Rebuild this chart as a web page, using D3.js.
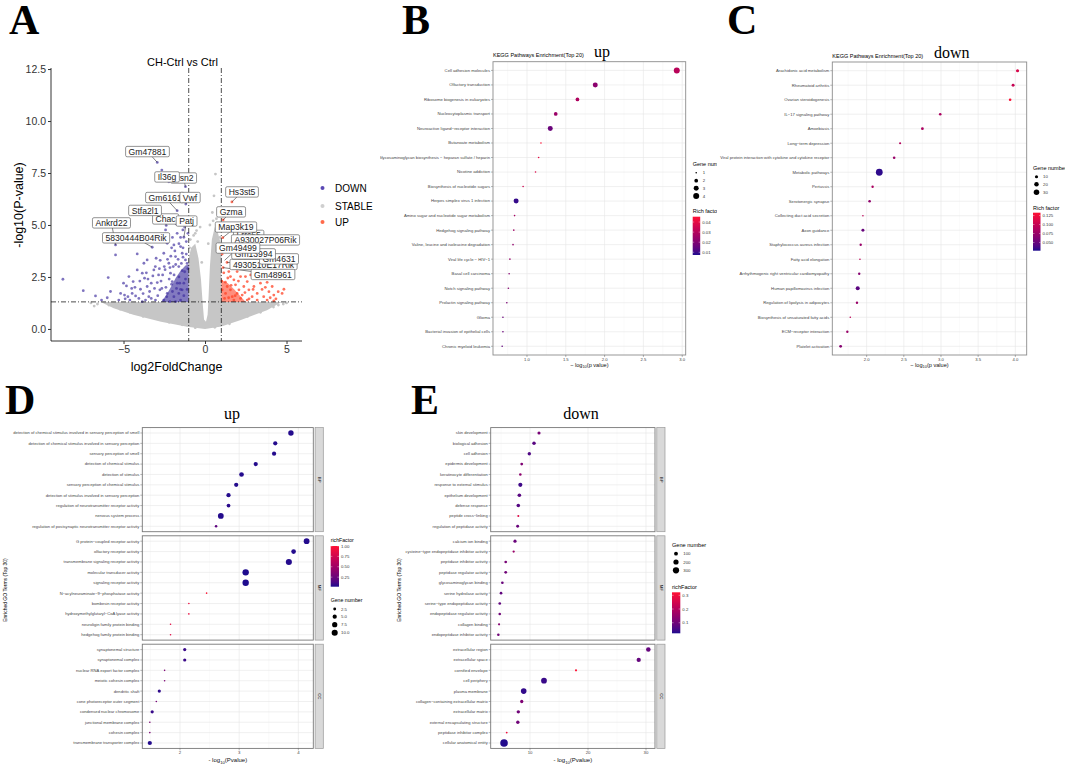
<!DOCTYPE html>
<html>
<head>
<meta charset="utf-8">
<title>Volcano, KEGG and GO enrichment</title>
<script src="https://d3js.org/d3.v7.min.js"></script>
<style>
  body { margin: 0; background: #fff; }
  svg { display: block; font-family: "Liberation Sans", Arial, sans-serif; }
  .letter { font-family: "Liberation Serif", "Times New Roman", serif; font-weight: bold; }
  .serif { font-family: "Liberation Serif", "Times New Roman", serif; }
</style>
</head>
<body>
<script>
// ---------- Panel A: volcano (log2FoldChange, -log10 p) ----------
const volcanoDown = [
  [-8.72,2.39],[-7.47,1.84],[-6.72,1.59],[-6.35,1.39],[-5.94,2.47],[-5.49,3.56],[-5.49,4.04],
  [-4.82,2.07],[-4.67,2.52],[-4.47,1.71],[-4.16,3.61],[-4.26,1.59],[-3.96,1.91],[-3.75,3.16],
  [-3.71,2.44],[-3.55,2.04],[-3.45,1.55],[-3.24,3.93],[-3.14,2.84],[-3.0,3.40],[-2.93,2.23],
  [-2.77,1.88],[-2.53,3.64],[-2.42,4.76],[-2.38,4.98],[-2.32,4.12],[-2.22,3.16],[-2.12,2.68],
  [-2.01,2.28],[-1.91,4.04],[-1.81,3.48],[-1.71,4.60],[-1.61,3.0],[-1.50,3.96],[-1.40,3.64],
  [-1.36,4.76],[-1.30,4.41],[-1.20,3.32],[-1.18,6.01],[-1.20,6.84],[-2.65,7.64],[-2.93,8.01],
  [-2.22,7.08],[-1.77,5.05],[-1.71,5.69],[-4.16,2.84],[-4.41,2.28],[-4.73,1.55],[-5.18,1.71],
  [-5.29,1.39],[-4.94,1.63],[-4.61,1.39],[-4.06,1.47],[-3.85,1.31],[-3.65,1.39],[-3.30,1.47],
  [-3.04,1.39],[-2.32,1.71],[-2.53,1.39],[-1.91,1.55],[-1.61,1.71],[-1.40,1.88],[-1.30,2.20],
  [-1.50,1.39],[-1.81,1.31],[-2.16,1.31],[-3.85,2.68],[-3.55,3.32],
  [-2.6,2.6],[-2.4,2.0],[-2.2,2.4],[-2.0,1.8],[-1.9,2.6],[-1.8,3.1],[-1.7,2.2],[-1.6,2.5],
  [-1.5,1.9],[-1.4,2.8],[-1.3,1.6],[-1.2,2.4],[-1.1,1.9],[-1.05,2.9],[-1.15,3.6],[-2.9,1.6],
  [-2.7,2.3],[-3.3,2.2],[-3.4,1.8],[-3.1,1.95],[-2.5,3.0],[-2.1,3.5],[-1.95,3.0],[-2.8,2.9],
  [-3.6,2.7],[-4.0,2.3],[-4.3,2.0],[-5.0,2.2],[-5.8,1.8],[-6.0,1.5],[-4.9,1.45],[-1.25,4.9],
  [-1.1,5.3],[-1.5,4.4],[-1.35,3.9],[-2.6,4.3],[-2.05,3.9],
  [-2.45,2.85],[-2.3,3.35],[-2.15,2.95],[-1.85,3.75],[-1.65,3.35],[-1.45,3.15],[-1.25,2.75],
  [-1.1,3.15],[-1.55,2.2],[-1.75,1.95],[-2.05,2.15],[-2.35,1.55],[-2.65,1.95],[-2.85,2.6],
  [-3.2,2.55],[-3.5,2.4],[-3.8,1.7],[-4.5,1.95],[-1.15,4.2],[-1.05,4.6],[-1.6,4.1],[-2.75,3.3],
  [-3.05,3.0],[-1.35,3.45],[-2.0,4.4]
];
const volcanoUp = [
  [1.65,6.11],[1.11,5.24],[1.09,4.39],[1.11,2.95],[1.26,3.88],[1.77,3.0],[1.77,2.36],[2.18,2.52],
  [2.59,2.28],[3.0,2.04],[3.4,2.2],[3.81,2.24],[4.12,2.04],[4.49,1.79],[4.73,1.71],[4.84,1.91],
  [4.22,1.63],[3.92,1.79],[3.6,1.55],[3.2,1.71],[2.89,1.55],[2.69,1.88],[2.38,2.04],[2.08,1.88],
  [1.87,2.12],[1.56,2.52],[1.46,2.76],[1.97,2.76],[2.48,2.52],[3.0,2.52],[1.26,1.71],[1.67,1.55],
  [2.18,1.47],[2.59,1.39],[3.2,1.39],[3.81,1.39],[4.22,1.35],[1.36,2.04],[1.56,1.88],[1.77,1.39],
  [1.2,1.47],[1.05,1.88],[1.97,1.71],[2.28,1.63],[1.03,2.3],[1.15,2.7],[1.35,3.2],[2.1,3.3],
  [2.8,2.6],[3.5,1.9],[4.0,1.5],[1.05,3.6],
  [1.4,2.45],[1.6,2.1],[1.85,1.6],[2.45,1.75],[2.95,1.9],[3.3,2.45],[3.7,2.0],[4.35,1.45],
  [1.25,2.25],[1.45,1.5],[2.05,2.3],[2.7,1.45]
];
const volcanoStable = [
  [-0.52,4.73],[0.64,7.45],[0.55,6.4],[0.45,5.6],[0.7,5.3],[-0.7,4.5],[-0.3,4.9],[-0.9,4.3],
  [0.3,5.0],[0.85,5.0],[-0.45,4.2],[0.92,4.4],[-0.95,3.9],[0.2,4.1],[-0.2,3.2],[0.75,4.9],
  [-0.6,4.6],[0.5,5.2],[-6.6,1.2],[-5.9,1.15],[-5.2,0.95],[-4.6,0.8],[-3.8,0.6],[-3.0,0.5],
  [-2.2,0.32],[-1.4,0.2],[-0.6,0.06],[0.6,0.08],[1.5,0.25],[2.6,0.6],[3.4,0.8],[4.2,1.05],
  [4.8,1.2],[5.0,1.25],[-7.0,1.25],[4.5,1.15],[-6.8,1.1]
];
// outline of the dense grey (STABLE) cloud, and the dense cores of the coloured groups
const stableCloud = [
  [0,0.0],[-1.1,0.1],[-2.7,0.35],[-4.4,0.68],[-5.6,1.0],[-6.4,1.3],[-1.0,1.3],[-1.0,3.4],
  [-0.85,3.9],[-0.6,4.1],[-0.4,3.4],[-0.25,2.4],[-0.14,1.2],[-0.06,0.45],[0.06,0.35],[0.16,0.7],
  [0.22,1.6],[0.3,3.0],[0.42,4.3],[0.6,4.9],[0.8,4.6],[1.0,4.0],[1.0,1.3],[4.7,1.3],[3.8,0.9],
  [2.2,0.43],[1.0,0.12]
];
const downCore = [[-1.0,1.3],[-2.7,1.3],[-2.4,1.6],[-2.1,2.0],[-1.8,2.45],[-1.5,2.8],[-1.2,3.05],[-1.0,3.1]];
const upCore = [[1.0,1.3],[2.5,1.3],[2.2,1.55],[1.8,1.9],[1.4,2.2],[1.0,2.35]];

const labelGenes = ["Csn2","Il36g","Gm47881","Chac","Patj","Gm6161","Vwf","Stfa2l1","Ankrd22","5830444B04Rik",
  "Hs3st5","Gzma","Lrrc55","Map3k19","A930027P06Rik","4930510E17Rik","Gm4631","Gm13994","Gm49499","Gm48961"];
const labelPoints = [[-1.2,6.84],[-2.22,7.08],[-2.93,8.01],[-2.38,4.98],[-1.30,4.41],[-1.71,5.69],[-1.18,6.01],
  [-1.77,5.05],[-5.49,4.04],[-3.24,3.93],[1.65,6.11],[1.11,5.24],[1.26,3.88],[1.09,4.39],[1.26,3.88],
  [1.35,3.2],[2.1,3.3],[1.77,3.0],[1.2,3.3],[1.11,2.95]];
// label box centres (data units), as placed by the repel layout
const labelBoxes = [[-1.32,7.26],[-2.33,7.31],[-3.53,8.53],[-2.42,5.29],[-1.13,5.19],[-2.45,6.32],[-0.92,6.32],
  [-3.68,5.70],[-5.74,5.10],[-4.23,4.38],[2.27,6.59],[1.60,5.63],[2.68,4.50],[1.90,4.90],[3.71,4.28],
  [3.59,3.10],[4.54,3.37],[2.98,3.61],[2.02,3.89],[4.17,2.62]];

// ---------- Panel B: KEGG up ----------
const keggUpTerms = ["Cell adhesion molecules","Olfactory transduction","Ribosome biogenesis in eukaryotes",
  "Nucleocytoplasmic transport","Neuroactive ligand−receptor interaction","Butanoate metabolism",
  "Glycosaminoglycan biosynthesis − heparan sulfate / heparin","Nicotine addiction",
  "Biosynthesis of nucleotide sugars","Herpes simplex virus 1 infection",
  "Amino sugar and nucleotide sugar metabolism","Hedgehog signaling pathway",
  "Valine, leucine and isoleucine degradation","Viral life cycle − HIV−1","Basal cell carcinoma",
  "Notch signaling pathway","Prolactin signaling pathway","Glioma","Bacterial invasion of epithelial cells",
  "Chronic myeloid leukemia"];
const keggUpLogP = [2.93,1.88,1.65,1.37,1.30,1.18,1.15,1.11,0.95,0.86,0.84,0.83,0.82,0.78,0.77,0.76,0.74,0.69,0.69,0.68];
const keggUpGenes = [4,3,2,2,3,1,1,1,1,3,1,1,1,1,1,1,1,1,1,1];
const keggUpRich = [0.031,0.022,0.029,0.025,0.016,0.045,0.040,0.038,0.035,0.009,0.027,0.026,0.023,0.024,0.021,0.021,0.019,0.016,0.016,0.015];

// ---------- Panel C: KEGG down ----------
const keggDownTerms = ["Arachidonic acid metabolism","Rheumatoid arthritis","Ovarian steroidogenesis",
  "IL−17 signaling pathway","Amoebiasis","Long−term depression",
  "Viral protein interaction with cytokine and cytokine receptor","Metabolic pathways","Pertussis",
  "Serotonergic synapse","Collecting duct acid secretion","Axon guidance","Staphylococcus aureus infection",
  "Fatty acid elongation","Arrhythmogenic right ventricular cardiomyopathy","Human papillomavirus infection",
  "Regulation of lipolysis in adipocytes","Biosynthesis of unsaturated fatty acids","ECM−receptor interaction",
  "Platelet activation"];
const keggDownLogP = [4.03,3.97,3.93,2.99,2.75,2.45,2.37,2.17,2.08,2.04,1.95,1.95,1.92,1.91,1.90,1.88,1.87,1.78,1.74,1.65];
const keggDownGenes = [10,9,7,7,8,5,7,45,6,7,3,9,6,3,6,16,6,3,6,8];
const keggDownRich = [0.11,0.10,0.13,0.085,0.085,0.09,0.075,0.03,0.085,0.07,0.095,0.05,0.075,0.095,0.065,0.045,0.075,0.095,0.075,0.065];

// ---------- Panel D: GO up ----------
const goUpTerms = [
  "detection of chemical stimulus involved in sensory perception of smell",
  "detection of chemical stimulus involved in sensory perception","sensory perception of smell",
  "detection of chemical stimulus","detection of stimulus","sensory perception of chemical stimulus",
  "detection of stimulus involved in sensory perception","regulation of neurotransmitter receptor activity",
  "nervous system process","regulation of postsynaptic neurotransmitter receptor activity",
  "G protein−coupled receptor activity","olfactory receptor activity","transmembrane signaling receptor activity",
  "molecular transducer activity","signaling receptor activity","N−acylneuraminate−9−phosphatase activity",
  "bombesin receptor activity","hydroxymethylglutaryl−CoA lyase activity","neuroligin family protein binding",
  "hedgehog family protein binding",
  "synaptonemal structure","synaptonemal complex","nuclear RNA export factor complex","meiotic cohesin complex",
  "dendritic shaft","cone photoreceptor outer segment","condensed nuclear chromosome",
  "junctional membrane complex","cohesin complex","transmembrane transporter complex"];
const goUpCat = ["BP","BP","BP","BP","BP","BP","BP","BP","BP","BP","MF","MF","MF","MF","MF","MF","MF","MF","MF","MF",
  "CC","CC","CC","CC","CC","CC","CC","CC","CC","CC"];
const goUpLogP = [3.875,3.61,3.59,3.28,3.04,2.95,2.82,2.82,2.69,2.61,
  4.14,3.92,3.84,3.11,3.11,2.45,2.15,2.15,1.84,1.84,
  2.08,2.08,1.74,1.74,1.65,1.60,1.53,1.49,1.49,1.49];
const goUpGenes = [8,5,5,5,6,5,5,4,9,2, 9,6,10,11,11,1,1,1,1,1, 3,3,1,1,3,1,3,1,1,5];
const goUpRich = [0.03,0.03,0.03,0.03,0.03,0.03,0.03,0.04,0.03,0.2,
  0.03,0.03,0.03,0.02,0.02,1.0,0.9,0.9,0.85,0.85,
  0.08,0.08,0.33,0.33,0.05,0.3,0.07,0.33,0.33,0.03];

// ---------- Panel E: GO down ----------
const goDownTerms = ["skin development","biological adhesion","cell adhesion","epidermis development",
  "keratinocyte differentiation","response to external stimulus","epithelium development","defense response",
  "peptide cross−linking","regulation of peptidase activity",
  "calcium ion binding","cysteine−type endopeptidase inhibitor activity","peptidase inhibitor activity",
  "peptidase regulator activity","glycosaminoglycan binding","serine hydrolase activity",
  "serine−type endopeptidase activity","endopeptidase regulator activity","collagen binding",
  "endopeptidase inhibitor activity",
  "extracellular region","extracellular space","cornified envelope","cell periphery","plasma membrane",
  "collagen−containing extracellular matrix","extracellular matrix","external encapsulating structure",
  "peptidase inhibitor complex","cellular anatomical entity"];
const goDownCat = goUpCat;
const goDownLogP = [11.55,10.69,9.88,8.57,8.33,8.33,8.16,7.98,7.98,7.87,
  7.41,7.18,5.81,5.81,5.23,5.0,4.78,4.78,4.66,4.54,
  30.4,28.74,17.93,12.41,8.91,8.57,7.98,7.9,5.98,5.52];
const goDownGenes = [60,80,75,45,35,120,90,85,15,50, 65,25,40,45,40,40,40,35,20,35,
  150,130,20,250,240,70,75,75,8,450];
const goDownRich = [0.11,0.07,0.06,0.12,0.14,0.045,0.07,0.065,0.27,0.09,
  0.09,0.16,0.11,0.1,0.09,0.08,0.08,0.1,0.13,0.1,
  0.085,0.085,0.32,0.04,0.035,0.12,0.1,0.1,0.3,0.025];

// ---------------------------------------------------------------
const LOW = "#1e0b8e", HIGH = "#ff1133";
const svg = d3.select("body").append("svg").attr("width", 1065).attr("height", 764);
const defs = svg.append("defs");

function richColor(domain) {
  return d3.scaleLinear().domain(domain).range([LOW, HIGH]).interpolate(d3.interpolateLab).clamp(true);
}
function sizeScale(domain, rr) {
  const s = d3.scaleLinear().domain(domain).range([rr[0] * rr[0], rr[1] * rr[1]]);
  return n => Math.sqrt(Math.max(0.05, s(n)));
}
function letter(t, x, y, size) {
  svg.append("text").attr("class", "letter").attr("x", x).attr("y", y)
    .attr("font-size", size).text(t);
}
function colorbar(g, id, x0, y0, w, h, domain, ticks, fmt, fs) {
  const grad = defs.append("linearGradient").attr("id", id)
    .attr("x1", 0).attr("y1", 1).attr("x2", 0).attr("y2", 0);
  d3.range(0, 1.0001, 0.1).forEach(t =>
    grad.append("stop").attr("offset", t).attr("stop-color", d3.interpolateLab(LOW, HIGH)(t)));
  g.append("rect").attr("x", x0).attr("y", y0).attr("width", w).attr("height", h)
    .attr("fill", `url(#${id})`);
  const s = d3.scaleLinear().domain(domain).range([y0 + h, y0]);
  ticks.forEach(t => {
    g.append("line").attr("x1", x0).attr("x2", x0 + w * 0.2).attr("y1", s(t)).attr("y2", s(t))
      .attr("stroke", "#fff").attr("stroke-width", 0.4);
    g.append("line").attr("x1", x0 + w * 0.8).attr("x2", x0 + w).attr("y1", s(t)).attr("y2", s(t))
      .attr("stroke", "#fff").attr("stroke-width", 0.4);
    g.append("text").attr("x", x0 + w + 2).attr("y", s(t) + fs * 0.35)
      .attr("font-size", fs).attr("fill", "#333").text(fmt(t));
  });
}
function sizeLegend(g, x, ys, labX, values, r, fs, fmt) {
  values.forEach((v, i) => {
    g.append("circle").attr("cx", x).attr("cy", ys[i]).attr("r", r(v)).attr("fill", "#000");
    g.append("text").attr("x", labX).attr("y", ys[i] + fs * 0.35).attr("font-size", fs)
      .attr("fill", "#333").text(fmt ? fmt(v) : v);
  });
}
function vgrid(g, x, top, bottom, major, minor) {
  minor.forEach(v => g.append("line").attr("x1", x(v)).attr("x2", x(v)).attr("y1", top).attr("y2", bottom)
    .attr("stroke", "#f3f3f3").attr("stroke-width", 0.4));
  major.forEach(v => g.append("line").attr("x1", x(v)).attr("x2", x(v)).attr("y1", top).attr("y2", bottom)
    .attr("stroke", "#e6e6e6").attr("stroke-width", 0.6));
}
function xTitle(g, cx, y, pre, post, fs) {
  const t = g.append("text").attr("x", cx).attr("y", y).attr("text-anchor", "middle")
    .attr("font-size", fs).attr("fill", "#111");
  t.append("tspan").text(pre);
  t.append("tspan").attr("font-size", fs * 0.7).attr("dy", fs * 0.3).text("10");
  t.append("tspan").attr("dy", -fs * 0.3).text(post);
}

// ================= Panel A =================
(function () {
  const g = svg.append("g");
  const ax = d3.scaleLinear().domain([-9.45, 5.95]).range([51, 302]);
  const ay = d3.scaleLinear().domain([-0.58, 12.55]).range([341, 68]);
  const line = d3.line().x(d => ax(d[0])).y(d => ay(d[1])).curve(d3.curveLinearClosed);

  g.append("path").attr("d", line(stableCloud)).attr("fill", "#c6c6c6");
  g.selectAll(".st").data(volcanoStable).join("circle")
    .attr("cx", d => ax(d[0])).attr("cy", d => ay(d[1])).attr("r", 1.4).attr("fill", "#c6c6c6");
  g.append("path").attr("d", line(downCore)).attr("fill", "#2f2296").attr("opacity", 0.6);
  g.selectAll(".dn").data(volcanoDown).join("circle")
    .attr("cx", d => ax(d[0])).attr("cy", d => ay(d[1])).attr("r", 1.4)
    .attr("fill", "#3a2a9c").attr("opacity", 0.65);
  g.append("path").attr("d", line(upCore)).attr("fill", "#ff4326").attr("opacity", 0.6);
  g.selectAll(".up").data(volcanoUp).join("circle")
    .attr("cx", d => ax(d[0])).attr("cy", d => ay(d[1])).attr("r", 1.4)
    .attr("fill", "#ff4326").attr("opacity", 0.75);

  // threshold lines
  const dash = "5,2,1,2";
  [-1, 1].forEach(v => g.append("line").attr("x1", ax(v)).attr("x2", ax(v)).attr("y1", 68).attr("y2", 341)
    .attr("stroke", "#000").attr("stroke-width", 0.7).attr("stroke-dasharray", dash));
  g.append("line").attr("x1", 51).attr("x2", 302).attr("y1", ay(-Math.log10(0.05))).attr("y2", ay(-Math.log10(0.05)))
    .attr("stroke", "#000").attr("stroke-width", 0.7).attr("stroke-dasharray", dash);

  // repel labels: segments then boxes
  labelGenes.forEach((n, i) => {
    g.append("line").attr("x1", ax(labelPoints[i][0])).attr("y1", ay(labelPoints[i][1]))
      .attr("x2", ax(labelBoxes[i][0])).attr("y2", ay(labelBoxes[i][1]))
      .attr("stroke", "#333").attr("stroke-width", 0.6);
  });
  labelGenes.forEach((n, i) => {
    const lg = g.append("g");
    const cx = ax(labelBoxes[i][0]), cy = ay(labelBoxes[i][1]);
    const rect = lg.append("rect");
    const t = lg.append("text").attr("x", cx).attr("y", cy + 3.1).attr("text-anchor", "middle")
      .attr("font-size", 8.6).attr("fill", "#222").text(n);
    const w = t.node().getComputedTextLength() + 6;
    rect.attr("x", cx - w / 2).attr("y", cy - 5.2).attr("width", w).attr("height", 10.4)
      .attr("rx", 1.5).attr("fill", "#fff").attr("stroke", "#666").attr("stroke-width", 0.7);
  });

  // axes
  g.append("line").attr("x1", 51).attr("x2", 51).attr("y1", 68).attr("y2", 341).attr("stroke", "#000").attr("stroke-width", 0.8);
  g.append("line").attr("x1", 51).attr("x2", 302).attr("y1", 341).attr("y2", 341).attr("stroke", "#000").attr("stroke-width", 0.8);
  const ya = g.append("g").attr("transform", "translate(51,0)")
    .call(d3.axisLeft(ay).tickValues([0, 2.5, 5, 7.5, 10, 12.5]).tickFormat(d3.format(".1f")).tickSize(3).tickPadding(2));
  const xa = g.append("g").attr("transform", "translate(0,341)")
    .call(d3.axisBottom(ax).tickValues([-5, 0, 5]).tickSize(3).tickPadding(2));
  [ya, xa].forEach(a => {
    a.select(".domain").remove();
    a.selectAll("text").attr("font-size", 10.5).attr("fill", "#333").attr("font-family", "Liberation Sans, Arial");
    a.selectAll("line").attr("stroke", "#333");
  });
  g.append("text").attr("x", 176.5).attr("y", 371).attr("text-anchor", "middle").attr("font-size", 12.5).text("log2FoldChange");
  g.append("text").attr("transform", "translate(23,205) rotate(-90)").attr("text-anchor", "middle")
    .attr("font-size", 12.5).text("-log10(P-value)");
  g.append("text").attr("x", 182.5).attr("y", 66).attr("text-anchor", "middle").attr("font-size", 11).text("CH-Ctrl vs Ctrl");

  // legend
  const legNames = ["DOWN", "STABLE", "UP"], legCols = ["#5a48b4", "#cfcfcf", "#ff6a4a"], legY = [188, 206, 222];
  legNames.forEach((n, i) => {
    g.append("circle").attr("cx", 322.5).attr("cy", legY[i]).attr("r", 2).attr("fill", legCols[i]);
    g.append("text").attr("x", 335).attr("y", legY[i] + 3.5).attr("font-size", 10).text(n);
  });
  letter("A", 9, 34, 42);
})();

// ================= Panels B, C =================
function keggPanel(o) {
  const g = svg.append("g");
  if (o.clip) {
    defs.append("clipPath").attr("id", o.clip).append("rect")
      .attr("x", o.clipRect[0]).attr("y", 0).attr("width", o.clipRect[1] - o.clipRect[0]).attr("height", 380);
    g.attr("clip-path", `url(#${o.clip})`);
  }
  const x = d3.scaleLinear().domain(o.xDomain).range([o.left, o.right]);
  const y = d3.scalePoint().domain(o.terms).range([o.top, o.bottom]).padding(0.6);
  const col = richColor(o.richDomain);
  const r = sizeScale(o.geneDomain, o.rRange);

  const minor = o.ticks.map(t => t - 0.25).concat([o.ticks[o.ticks.length - 1] + 0.25])
    .filter(v => v > o.xDomain[0] && v < o.xDomain[1]);
  vgrid(g, x, o.top, o.bottom, o.ticks, minor);
  o.terms.forEach(t => g.append("line").attr("x1", o.left).attr("x2", o.right).attr("y1", y(t)).attr("y2", y(t))
    .attr("stroke", "#e6e6e6").attr("stroke-width", 0.6));

  o.terms.forEach((t, i) => {
    g.append("circle").attr("cx", x(o.logP[i])).attr("cy", y(t)).attr("r", r(o.genes[i])).attr("fill", col(o.rich[i]));
    g.append("line").attr("x1", o.left - 2).attr("x2", o.left).attr("y1", y(t)).attr("y2", y(t)).attr("stroke", "#444").attr("stroke-width", 0.4);
    g.append("text").attr("x", o.left - 3).attr("y", y(t) + 1.4).attr("text-anchor", "end")
      .attr("font-size", 4.2).attr("fill", "#444").text(t);
  });
  g.append("rect").attr("x", o.left).attr("y", o.top).attr("width", o.right - o.left).attr("height", o.bottom - o.top)
    .attr("fill", "none").attr("stroke", "#8c8c8c").attr("stroke-width", 0.9);
  o.ticks.forEach(v => {
    g.append("line").attr("x1", x(v)).attr("x2", x(v)).attr("y1", o.bottom).attr("y2", o.bottom + 2).attr("stroke", "#444").attr("stroke-width", 0.4);
    g.append("text").attr("x", x(v)).attr("y", o.bottom + 5.6).attr("text-anchor", "middle").attr("font-size", 4.2)
      .attr("fill", "#444").text(d3.format(".1f")(v));
  });
  xTitle(g, (o.left + o.right) / 2, o.bottom + 11.5, "− log", "(p value)", 5.6);
  g.append("text").attr("x", o.left).attr("y", o.top - 4.5).attr("font-size", 5.5).text("KEGG Pathways Enrichment(Top 20)");
  g.append("text").attr("class", "serif").attr("x", o.tagX).attr("y", o.top - 4.5).attr("font-size", 16).text(o.tag);

  // legends
  g.append("text").attr("x", o.legX).attr("y", o.sizeTitleY).attr("font-size", 5.5).text(o.sizeTitle);
  sizeLegend(g, o.legX + 3.5, o.sizeYs, o.legX + 10, o.sizeValues, r, 4.3);
  g.append("text").attr("x", o.legX).attr("y", o.colTitleY).attr("font-size", 5.5).text("Rich factor");
  colorbar(g, o.id + "grad", o.legX, o.cbY, 7.5, o.cbH, o.richDomain, o.cbTicks, o.cbFmt, 4.3);
}

keggPanel({
  id: "kup", clip: "clipB", clipRect: [380, 717],
  terms: keggUpTerms, logP: keggUpLogP, genes: keggUpGenes, rich: keggUpRich,
  left: 493, right: 685.7, top: 61.7, bottom: 355, xDomain: [0.562, 3.045], ticks: [1.0, 1.5, 2.0, 2.5, 3.0],
  richDomain: [0.0073, 0.0453], geneDomain: [1, 4], rRange: [0.8, 3.0],
  tag: "up", tagX: 594, legX: 692.7,
  sizeTitle: "Gene number", sizeTitleY: 166, sizeYs: [172.7, 180.7, 188.3, 196], sizeValues: [1, 2, 3, 4],
  colTitleY: 213, cbY: 216.7, cbH: 38.3, cbTicks: [0.01, 0.02, 0.03, 0.04], cbFmt: d3.format(".2f")
});
keggPanel({
  id: "kdn",
  terms: keggDownTerms, logP: keggDownLogP, genes: keggDownGenes, rich: keggDownRich,
  left: 832.3, right: 1026.7, top: 62, bottom: 355, xDomain: [1.538, 4.153], ticks: [2.0, 2.5, 3.0, 3.5, 4.0],
  richDomain: [0.027, 0.133], geneDomain: [3, 45], rRange: [0.8, 3.4],
  tag: "down", tagX: 934, legX: 1033,
  sizeTitle: "Gene number", sizeTitleY: 170, sizeYs: [176.7, 184.3, 192.3], sizeValues: [10, 20, 30],
  colTitleY: 210, cbY: 212.7, cbH: 38, cbTicks: [0.05, 0.075, 0.1, 0.125], cbFmt: d3.format(".3f")
});
letter("B", 402, 34, 42);
letter("C", 727, 34, 42);

// ================= Panels D, E =================
function goPanel(o) {
  const g = svg.append("g");
  const x = d3.scaleLinear().domain(o.xDomain).range([o.left, o.right]);
  const col = richColor(o.richDomain);
  const r = sizeScale(o.geneDomain, o.rRange);
  const facets = ["BP", "MF", "CC"];
  const facetY = [[427.6, 531.7], [535.8, 640.1], [644.2, 748.4]];
  facets.forEach((f, k) => {
    const [top, bottom] = facetY[k];
    const idx = o.terms.map((t, i) => i).filter(i => o.cat[i] === f);
    const y = d3.scalePoint().domain(idx.map(i => o.terms[i])).range([top, bottom]).padding(0.52);
    vgrid(g, x, top, bottom, o.ticks, o.minor);
    idx.forEach(i => g.append("line").attr("x1", o.left).attr("x2", o.right).attr("y1", y(o.terms[i])).attr("y2", y(o.terms[i]))
      .attr("stroke", "#e6e6e6").attr("stroke-width", 0.6));
    idx.forEach(i => {
      const yy = y(o.terms[i]);
      g.append("circle").attr("cx", x(o.logP[i])).attr("cy", yy).attr("r", r(o.genes[i])).attr("fill", col(o.rich[i]));
      g.append("line").attr("x1", o.left - 2).attr("x2", o.left).attr("y1", yy).attr("y2", yy).attr("stroke", "#444").attr("stroke-width", 0.4);
      g.append("text").attr("x", o.left - 3).attr("y", yy + 1.4).attr("text-anchor", "end")
        .attr("font-size", 4.1).attr("fill", "#444").text(o.terms[i]);
    });
    g.append("rect").attr("x", o.left).attr("y", top).attr("width", o.right - o.left).attr("height", bottom - top)
      .attr("fill", "none").attr("stroke", "#777").attr("stroke-width", 0.9);
    // strip
    g.append("rect").attr("x", o.right + 1.8).attr("y", top).attr("width", 8.2).attr("height", bottom - top)
      .attr("fill", "#d9d9d9").attr("stroke", "#999").attr("stroke-width", 0.7);
    g.append("text").attr("transform", `translate(${o.right + 4.6},${(top + bottom) / 2}) rotate(90)`)
      .attr("text-anchor", "middle").attr("font-size", 4.3).attr("fill", "#222").text(f);
  });
  const bottom = facetY[2][1];
  o.ticks.forEach(v => {
    g.append("line").attr("x1", x(v)).attr("x2", x(v)).attr("y1", bottom).attr("y2", bottom + 2).attr("stroke", "#444").attr("stroke-width", 0.4);
    g.append("text").attr("x", x(v)).attr("y", bottom + 6).attr("text-anchor", "middle").attr("font-size", 4.3)
      .attr("fill", "#444").text(v);
  });
  xTitle(g, (o.left + o.right) / 2, 761.8, "- log", "(Pvalue)", 6);
  g.append("text").attr("transform", `translate(${o.yTitleX},590) rotate(-90)`).attr("text-anchor", "middle")
    .attr("font-size", 5).text("Enriched GO Terms (Top 30)");
  g.append("text").attr("class", "serif").attr("x", o.tagX).attr("y", 419).attr("text-anchor", "middle")
    .attr("font-size", 16).text(o.tag);

  o.legends(g, r);
}

goPanel({
  terms: goUpTerms, cat: goUpCat, logP: goUpLogP, genes: goUpGenes, rich: goUpRich,
  left: 142.3, right: 313.3, xDomain: [1.363, 4.253], ticks: [2, 3, 4], minor: [1.5, 2.5, 3.5],
  richDomain: [0.02, 1.0], geneDomain: [1, 11], rRange: [0.8, 3.2],
  tag: "up", tagX: 232, yTitleX: 7,
  legends: (g, r) => {
    g.append("text").attr("x", 330.7).attr("y", 542).attr("font-size", 5.2).text("richFactor");
    colorbar(g, "gupgrad", 330.7, 546, 8.3, 40.7, [0.02, 1.0], [0.25, 0.5, 0.75, 1.0], d3.format(".2f"), 4.3);
    g.append("text").attr("x", 330.7).attr("y", 602).attr("font-size", 5.2).text("Gene number");
    sizeLegend(g, 334.7, [609, 616.7, 624.7, 632.7], 341, [2.5, 5.0, 7.5, 10.0], r, 4.3, d3.format(".1f"));
  }
});
goPanel({
  terms: goDownTerms, cat: goDownCat, logP: goDownLogP, genes: goDownGenes, rich: goDownRich,
  left: 490.7, right: 655, xDomain: [3.22, 31.55], ticks: [10, 20, 30], minor: [5, 15, 25],
  richDomain: [0.023, 0.322], geneDomain: [8, 450], rRange: [0.9, 3.8],
  tag: "down", tagX: 581, yTitleX: 401,
  legends: (g, r) => {
    g.append("text").attr("x", 672).attr("y", 547).attr("font-size", 5.6).text("Gene number");
    sizeLegend(g, 676, [553.7, 562, 570.3], 683.3, [100, 200, 300], r, 4.3);
    g.append("text").attr("x", 672).attr("y", 589).attr("font-size", 5.6).text("richFactor");
    colorbar(g, "gdngrad", 672, 592.3, 8.3, 41, [0.023, 0.322], [0.1, 0.2, 0.3], d3.format(".1f"), 4.3);
  }
});
letter("D", 5, 414, 42);
letter("E", 411, 414, 42);
</script>
</body>
</html>
